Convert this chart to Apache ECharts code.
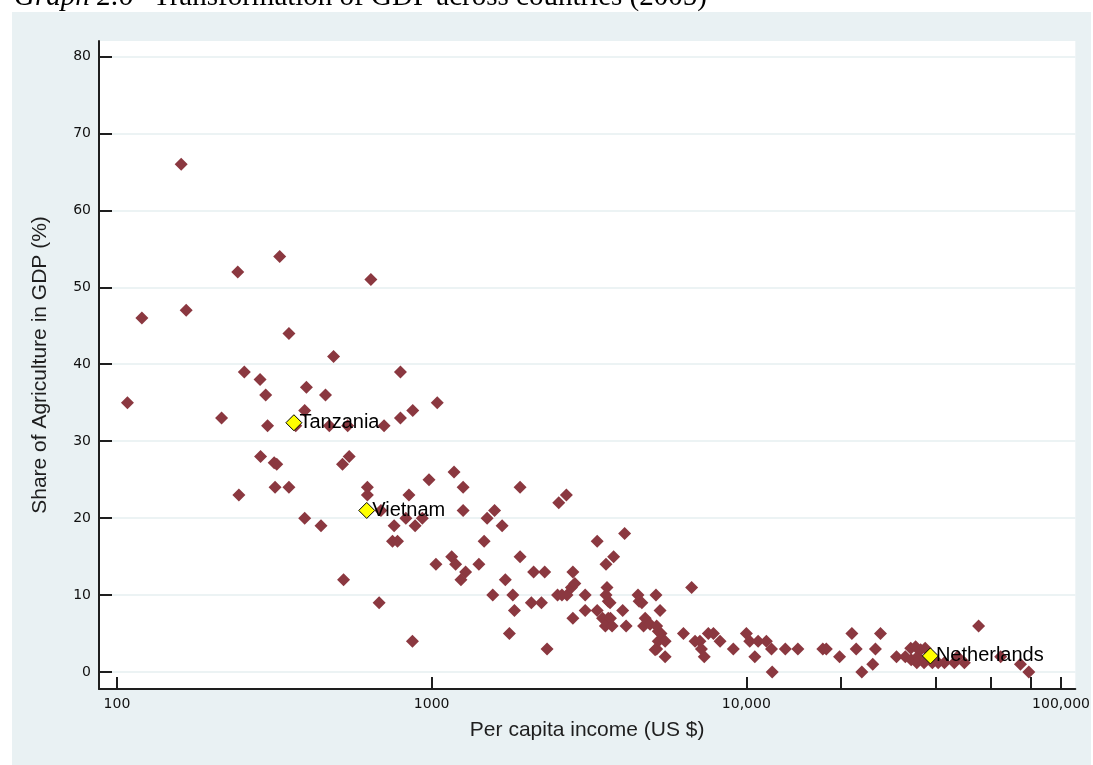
<!DOCTYPE html>
<html>
<head>
<meta charset="utf-8">
<script src="https://cdn.jsdelivr.net/npm/echarts@6/dist/echarts.min.js"></script>
<style>
  html, body { margin: 0; padding: 0; background: #fff; }
  #chart { width: 1093px; height: 765px; }
</style>
</head>
<body>
<div id="chart"></div>
<script>
// per capita income (US $) of each country
const income = [
  160, 108, 120, 166, 242, 329, 641, 352, 488, 254,
  796, 285, 400, 297, 460, 1042, 395, 871, 215, 796,
  301, 370, 473, 541, 706, 286, 316, 322, 521, 547,
  981, 244, 318, 352, 395, 445, 625, 625, 847, 1178,
  1259, 1259, 690, 828, 886, 934, 760, 751, 779, 525,
  1032, 1158, 1192, 1282, 1239, 1413, 681, 869, 1910, 2680,
  2535, 1585, 1501, 1675, 1468, 3357, 4104, 3787, 3581, 1910,
  2109, 2287, 2811, 1714, 1564, 1811, 1833, 2074, 2233, 1766,
  2327, 2512, 2594, 2692, 2780, 2850, 2811, 3076, 3076, 3357,
  3607, 3581, 3640, 3690, 3493, 3640, 3700, 3565, 3744, 4047,
  4150, 4527, 4563, 4656, 5162, 5320, 4770, 4714, 4944, 5188,
  5250, 5355, 5250, 5520, 5188, 5130, 5520, 6310, 6700, 6870,
  7120, 7200, 7350, 7570, 7860, 8250, 9090, 10000, 10250, 10900,
  11580, 12020, 10640, 12080, 13300, 14580, 17500, 17950, 19780, 21640,
  22340, 23280, 25220, 25720, 26680, 30000, 32000, 33300, 34500, 33400,
  35000, 35800, 37000, 34800, 36700, 39000, 40700, 42600, 45800, 46900,
  49300, 54700, 64300, 74300, 79000
];
// share of agriculture in GDP (%), same order
const agriShare = [
  66, 35, 46, 47, 52, 54, 51, 44, 41, 39,
  39, 38, 37, 36, 36, 35, 34, 34, 33, 33,
  32, 32, 32, 32, 32, 28, 27.2, 27, 27, 28,
  25, 23, 24, 24, 20, 19, 24, 23, 23, 26,
  24, 21, 21, 20, 19, 20, 19, 17, 17, 12,
  14, 15, 14, 13, 12, 14, 9, 4, 24, 23,
  22, 21, 20, 19, 17, 17, 18, 15, 14, 15,
  13, 13, 13, 12, 10, 10, 8, 9, 9, 5,
  3, 10, 10, 10, 11, 11.5, 7, 10, 8, 8,
  11, 10, 9.2, 9, 7, 7, 7, 6, 6, 8,
  6, 10, 9.2, 9, 10, 8, 7, 6, 6.2, 6,
  5.3, 5, 4, 4, 3, 2.9, 2, 5, 11, 4,
  4, 3, 2, 5, 5, 4, 3, 5, 4, 4,
  4, 3, 2, 0, 3, 3, 3, 3, 2, 5,
  3, 0, 1, 3, 5, 2, 2, 3.1, 3.3, 1.6,
  2, 2.9, 3.1, 1.2, 1.2, 1.2, 1.2, 1.2, 1.2, 2,
  1.2, 6, 2, 1, 0
];

// labelled countries
const markedNames = ['Tanzania', 'Vietnam', 'Netherlands'];
const markedIncome = [365, 622, 38440];
const markedShare = [32.4, 21, 2.1];

const xTicks = [100, 1000, 10000, 20000, 40000, 60000, 80000, 100000];
const xLabels = [100, 1000, 10000, 100000];
const yTicks = [0, 10, 20, 30, 40, 50, 60, 70, 80];

const chart = echarts.init(document.getElementById('chart'), null, { renderer: 'canvas' });

const points = income.map((v, i) => [v, agriShare[i]]);
const marked = markedNames.map((n, i) => ({ name: n, value: [markedIncome[i], markedShare[i]] }));

const axisColor = '#1e1e1e';
const tickFont = { fontFamily: 'DejaVu Sans', fontSize: 14, color: '#111' };

const option = {
  animation: false,
  backgroundColor: '#fff',
  graphic: [
    {
      type: 'rect', z: -10, silent: true,
      shape: { x: 12, y: 12, width: 1079, height: 753 },
      style: { fill: '#e9f1f3' }
    },
    {
      type: 'text', silent: true,
      style: {
        x: 14, y: 12, text: 'Graph 2.6',
        font: 'italic 29px "Liberation Serif", "Times New Roman", serif',
        fill: '#000', verticalAlign: 'bottom'
      }
    },
    {
      type: 'text', silent: true,
      style: {
        x: 153, y: 12, text: 'Transformation of GDP across countries (2005)',
        font: '29px "Liberation Serif", "Times New Roman", serif',
        fill: '#000', verticalAlign: 'bottom'
      }
    }
  ],
  grid: {
    left: 99, top: 41, right: 15, bottom: 76,
    show: true, backgroundColor: '#fff', borderWidth: 0
  },
  xAxis: {
    type: 'log',
    logBase: 10,
    min: 87.7,
    max: 111000,
    name: 'Per capita income (US $)',
    nameLocation: 'middle',
    nameGap: 31,
    nameTextStyle: { fontFamily: 'Liberation Sans', fontSize: 21, color: '#1e1e1e' },
    axisLine: { show: true, onZero: false, lineStyle: { color: axisColor, width: 2 } },
    axisTick: {
      show: true, inside: true, length: 12,
      lineStyle: { color: axisColor, width: 2 },
      customValues: xTicks
    },
    axisLabel: {
      ...tickFont,
      margin: 8,
      customValues: xLabels,
      formatter: v => {
        const r = Math.round(v);
        return r >= 10000 ? r.toLocaleString('en-US') : String(r);
      }
    },
    splitLine: { show: false },
    minorTick: { show: false }
  },
  yAxis: {
    type: 'value',
    min: -2.2,
    max: 82,
    name: 'Share of Agriculture in GDP (%)',
    nameLocation: 'middle',
    nameGap: 48,
    nameTextStyle: { fontFamily: 'Liberation Sans', fontSize: 21, color: '#1e1e1e' },
    axisLine: { show: true, onZero: false, lineStyle: { color: axisColor, width: 2 } },
    axisTick: {
      show: true, inside: true, length: 13,
      lineStyle: { color: axisColor, width: 2 },
      customValues: yTicks
    },
    axisLabel: { ...tickFont, margin: 8, customValues: yTicks },
    splitLine: { show: true, lineStyle: { color: '#e6eff1', width: 1.5 } }
  },
  series: [
    {
      type: 'scatter',
      data: points,
      symbol: 'diamond',
      symbolSize: 13,
      itemStyle: { color: '#8b3840', opacity: 1 },
      z: 2
    },
    {
      type: 'scatter',
      data: marked,
      symbol: 'diamond',
      symbolSize: 16,
      itemStyle: { color: '#ffff00', borderColor: '#000', borderWidth: 1, opacity: 1 },
      label: {
        show: true,
        position: 'right',
        distance: -3,
        formatter: p => p.name,
        fontFamily: 'Liberation Sans',
        fontSize: 20,
        color: '#000'
      },
      z: 5
    }
  ]
};

chart.setOption(option);
</script>
</body>
</html>
